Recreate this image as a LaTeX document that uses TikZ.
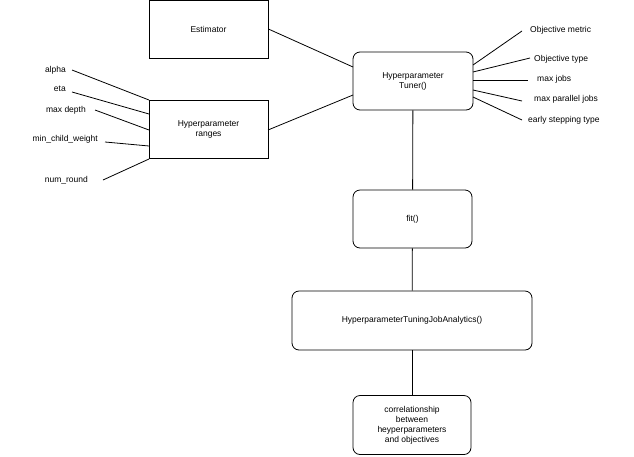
\documentclass[tikz,border=0pt]{standalone}
\usepackage{fontspec}
\setmainfont{Liberation Sans}
\begin{document}
\begin{tikzpicture}[x=1pt,y=-1pt,every node/.style={font=\fontsize{8.5}{10}\selectfont},
  sq/.style={draw,line width=0.8pt,fill=white,inner sep=0,align=center},
  rd/.style={sq,rounded corners=7pt},
  lab/.style={inner sep=0},
  ln/.style={line width=0.8pt}]
\useasboundingbox (0,0) rectangle (634,456);
\node[sq,minimum width=119,minimum height=58] (est) at (208.5,29) {Estimator};
\node[sq,minimum width=119,minimum height=58] (rng) at (208.5,129) {Hyperparameter\\ranges};
\node[rd,minimum width=120,minimum height=58] (tun) at (413,81) {Hyperparameter\\Tuner()};
\node[rd,minimum width=119,minimum height=58] (fit) at (412.5,219) {fit()};
\node[rd,minimum width=240,minimum height=59] (ana) at (412,320.5) {HyperparameterTuningJobAnalytics()};
\node[rd,minimum width=118,minimum height=59] (cor) at (412,425) {correlationship\\between\\heyperparameters\\and objectives};
\draw[ln] (est.east) -- (353,67);
\draw[ln] (268,130) -- (353,95);
\draw[ln] (tun) -- (fit);
\draw[ln] (fit) -- (ana);
\draw[ln] (ana) -- (cor);
% left labels
\node[lab,anchor=east] (a) at (66,70) {alpha};
\node[lab,anchor=east] (b) at (66,89) {eta};
\node[lab,anchor=east] (c) at (86,110) {max depth};
\node[lab,anchor=east] (d) at (98,139) {min\_child\_weight};
\node[lab,anchor=east] (e) at (88,180) {num\_round};
\draw[ln] (72,70) -- (149,100);
\draw[ln] (72,92) -- (149,114);
\draw[ln] (95,110) -- (149,130);
\draw[ln] (105,142) -- (149,146);
\draw[ln] (103,180) -- (149,159);
% right labels
\node[lab,anchor=west] (m) at (530,30) {Objective metric};
\node[lab,anchor=west] (t) at (534,59) {Objective type};
\node[lab,anchor=west] (j) at (537,79) {max jobs};
\node[lab,anchor=west] (p) at (534,99) {max parallel jobs};
\node[lab,anchor=west] (s) at (528,120) {early stepping type};
\draw[ln] (473,65) -- (522,31);
\draw[ln] (473,72) -- (530,58);
\draw[ln] (473,80) -- (528,80);
\draw[ln] (473,90) -- (522,101);
\draw[ln] (473,97) -- (522,120);
\end{tikzpicture}
\end{document}
